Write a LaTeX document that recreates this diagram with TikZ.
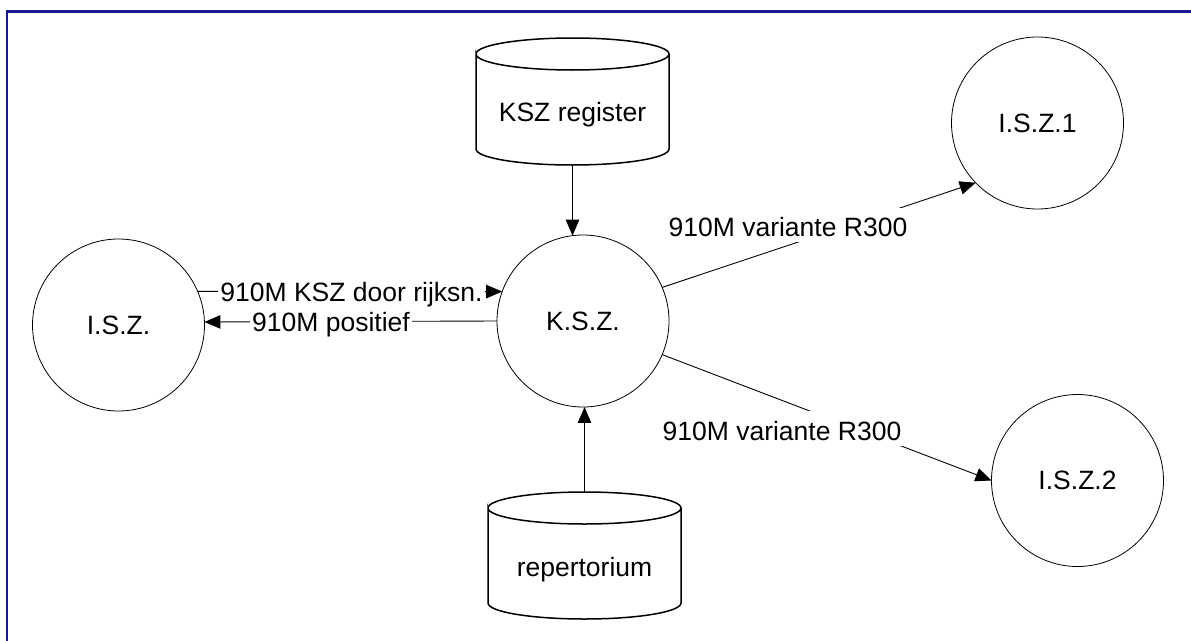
\documentclass[tikz,border=0pt]{standalone}
\usepackage{fontspec}
\setmainfont{Liberation Sans}
\usetikzlibrary{arrows.meta}
\definecolor{framenavy}{RGB}{26,26,143}
\tikzset{
  every node/.style={font=\fontsize{26.5pt}{31pt}\selectfont},
  proc/.style={circle, draw, line width=0.8pt, minimum size=172pt, inner sep=0pt, outer sep=0pt},
  store/.style={rectangle, minimum width=193pt, minimum height=127pt, inner sep=0pt, outer sep=0pt},
  cylline/.style={line width=1.5pt},
  flow/.style={line width=0.9pt, -{Triangle[length=16pt,width=13.5pt]}},
  lbl/.style={fill=white, inner xsep=2pt, inner ysep=0pt, text height=29pt, text depth=5.3pt},
  lbls/.style={fill=white, inner xsep=2pt, inner ysep=1pt, text height=20pt, text depth=5.3pt},
  frameline/.style={draw=framenavy, line width=2.5pt}
}
\newcommand{\cylout}[1]{%
  \draw[cylline] ([yshift=-16pt]#1.north west) arc[start angle=180, end angle=-180, x radius=96.5pt, y radius=16pt]
    -- ([yshift=16pt]#1.south west) arc[start angle=180, end angle=360, x radius=96.5pt, y radius=16pt]
    -- ([yshift=-16pt]#1.north east);}
\begin{document}
\begin{tikzpicture}[x=1pt,y=-1pt]
\useasboundingbox (0,0) rectangle (1191,640);
\clip (0,0) rectangle (1191,640);
\fill[white] (0,0) rectangle (1191,640);
\draw[frameline] (7.2,700) -- (7.2,11.3) -- (1250,11.3);

\node[proc] (isz) at (118.5,325) {I.S.Z.};
\node[proc] (ksz) at (583,321) {K.S.Z.};
\node[proc] (isz1) at (1037.5,123) {I.S.Z.1};
\node[proc] (isz2) at (1077.5,480.5) {I.S.Z.2};
\node[store] (kszreg) at (572.5,101.5) {\raisebox{-13.5pt}[\height][\depth]{KSZ register}};
\node[store] (rep) at (584.5,555.5) {\raisebox{-14pt}[\height][\depth]{repertorium}};
\cylout{kszreg}
\cylout{rep}

\draw[flow] (kszreg.south) -- (ksz.97);
\draw[flow] (rep.north) -- (ksz.-89);
\draw[flow] (isz.23.3) -- (ksz.160.3);
\draw[flow] (ksz.west) -- (isz.2.7);
\draw[flow] (ksz.23.3) -- (isz1.224.3);
\draw[flow] (ksz.-23.3) -- (isz2.west);

\node[lbls] (l1) at (351.5,294.4) {910M KSZ door rijksn.};
\node[lbls] (l2) at (331,323.7) {910M positief};
\node[lbl] (l3) at (788,225.1) {910M variante R300};
\node[lbl] (l4) at (782,428.6) {910M variante R300};
\end{tikzpicture}
\end{document}
